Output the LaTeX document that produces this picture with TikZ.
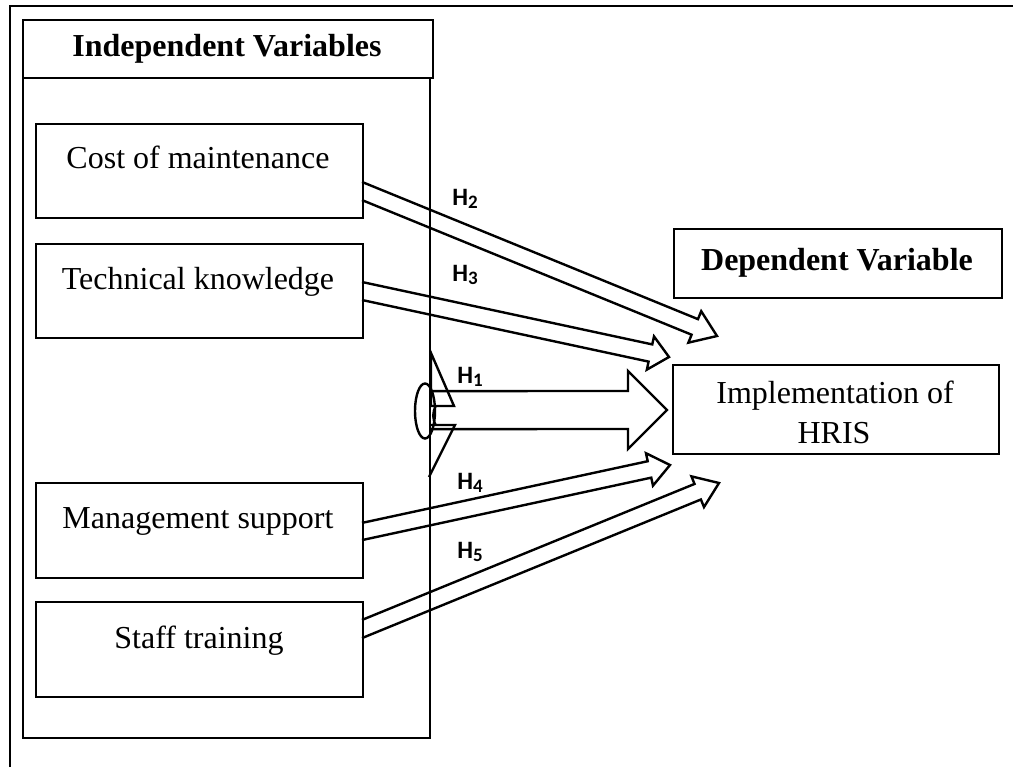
\documentclass[tikz,border=0pt]{standalone}
\usepackage{fontspec}
\setmainfont{Liberation Serif}
\newfontfamily\hfont{Carlito}
\usetikzlibrary{calc,shapes.geometric}
\tikzset{
  bx/.style={draw, line width=1.2pt, inner sep=0pt, anchor=north west},
  txt/.style={font=\fontsize{16}{20}\selectfont, inner sep=0pt},
  btxt/.style={font=\fontsize{16}{20}\selectfont\bfseries, inner sep=0pt},
  hl/.style={font=\hfont\bfseries\fontsize{12.5}{13}\selectfont, inner sep=0pt, anchor=west},
  arr/.style={draw, line width=1.2pt, line join=miter},
  frame/.style={draw, line width=1pt}
}
% #1 start (on a vertical edge), #2 tip, #3 shaft half width, #4 head half width, #5 head length
\newcommand{\blockarr}[5]{%
  \path ($(#2)!#5!(#1)$) coordinate (tmpB)
        ($(#1)!#3!90:(#2)$) coordinate (tmpA1)
        ($(#1)!#3!-90:(#2)$) coordinate (tmpA2)
        ($(tmpB)!#3!90:(#2)$) coordinate (tmpC1)
        ($(tmpB)!#3!-90:(#2)$) coordinate (tmpC2)
        ($(#1)+(0,10)$) coordinate (tmpV);
  \draw[arr] (intersection of tmpA1--tmpC1 and #1--tmpV) -- (tmpC1) -- ($(tmpB)!#4!90:(#2)$) -- (#2)
     -- ($(tmpB)!#4!-90:(#2)$) -- (tmpC2) -- (intersection of tmpA2--tmpC2 and #1--tmpV);
}
\newcommand{\Hsub}[1]{H{\fontsize{9.5}{10}\selectfont\raisebox{-1.2pt}{#1}}}
\begin{document}
\begin{tikzpicture}[x=0.5pt,y=-0.5pt]
\useasboundingbox (0,0) rectangle (1013,767);
% outer frame
\coordinate (fbl) at (10,767);
\coordinate (ftl) at (10,6);
\coordinate (ftr) at (1013,6);
\draw[frame] (fbl) -- (ftl) -- (ftr);
% independent variables
\node[bx, minimum width=205pt, minimum height=29pt] (ivh) at (22,19) {};
\node[bx, minimum width=203.5pt, minimum height=330pt] (ivb) at (22,77) {};
\node[btxt] (ivt) at (227,49) {Independent Variables};
\node[bx, minimum width=163.5pt, minimum height=47pt] (cost) at (35,123) {};
\node[bx, minimum width=163.5pt, minimum height=47pt] (tech) at (35,243) {};
\node[bx, minimum width=163.5pt, minimum height=47.5pt] (mgmt) at (35,482) {};
\node[bx, minimum width=163.5pt, minimum height=47.5pt] (staff) at (35,601) {};
\node[txt, anchor=base] (costt) at (198,168) {Cost of maintenance};
\node[txt, anchor=base] (techt) at (198,289) {Technical knowledge};
\node[txt, anchor=base] (mgmtt) at (198,528) {Management support};
\node[txt, anchor=base] (stafft) at (199,648) {Staff training};
% dependent
\node[bx, minimum width=164pt, minimum height=34.5pt] (dep) at (673,228) {};
\node[btxt] (dept) at (837,263) {Dependent Variable};
\node[bx, minimum width=163pt, minimum height=44.5pt] (impl) at (672,364) {};
\node[txt, anchor=base] (implt) at (835,403) {Implementation of};
\node[txt, anchor=base] (implt2) at (834,443) {HRIS};
% arrow end points
\coordinate (s2) at (362,191);  \coordinate (t2) at (717,336);
\coordinate (s3) at (362,291);  \coordinate (t3) at (669,357);
\coordinate (s1) at (431,410);  \coordinate (t1) at (667,410);
\coordinate (s4) at (362,531.5);\coordinate (t4) at (670,465);
\coordinate (s5) at (362,629);  \coordinate (t5) at (719,483);
\blockarr{s2}{t2}{4.2pt}{8.5pt}{12pt}
\blockarr{s3}{t3}{4.4pt}{8.5pt}{9.5pt}
\blockarr{s4}{t4}{4.2pt}{8.3pt}{10.5pt}
\blockarr{s5}{t5}{4.2pt}{8.3pt}{11.5pt}
\blockarr{s1}{t1}{9.5pt}{19.5pt}{19.5pt}
% odd shapes at the start of H1
\node[draw, line width=1.2pt, ellipse, minimum width=10pt, minimum height=27.5pt, inner sep=0pt] (ell) at (425,411) {};
\coordinate (u1) at (431,353); \coordinate (u2) at (454,406); \coordinate (u3) at (431,406);
\coordinate (l1) at (431,425); \coordinate (l2) at (455,425); \coordinate (l3) at (429,477);
\draw[arr] (u1) -- (u2) -- (u3) -- cycle;
\draw[arr] (l1) -- (l2) -- (l3);
\coordinate (c1) at (436,406); \coordinate (c2) at (436,425);
\draw[line width=1pt] (c1) .. controls (432,411) and (432,420) .. (c2);
% labels
\node[hl] (h2) at (452,199) {\Hsub{2}};
\node[hl] (h3) at (452,275) {\Hsub{3}};
\node[hl] (h1) at (457,377) {\Hsub{1}};
\node[hl] (h4) at (457,483) {\Hsub{4}};
\node[hl] (h5) at (457,552) {\Hsub{5}};
\end{tikzpicture}
\end{document}
